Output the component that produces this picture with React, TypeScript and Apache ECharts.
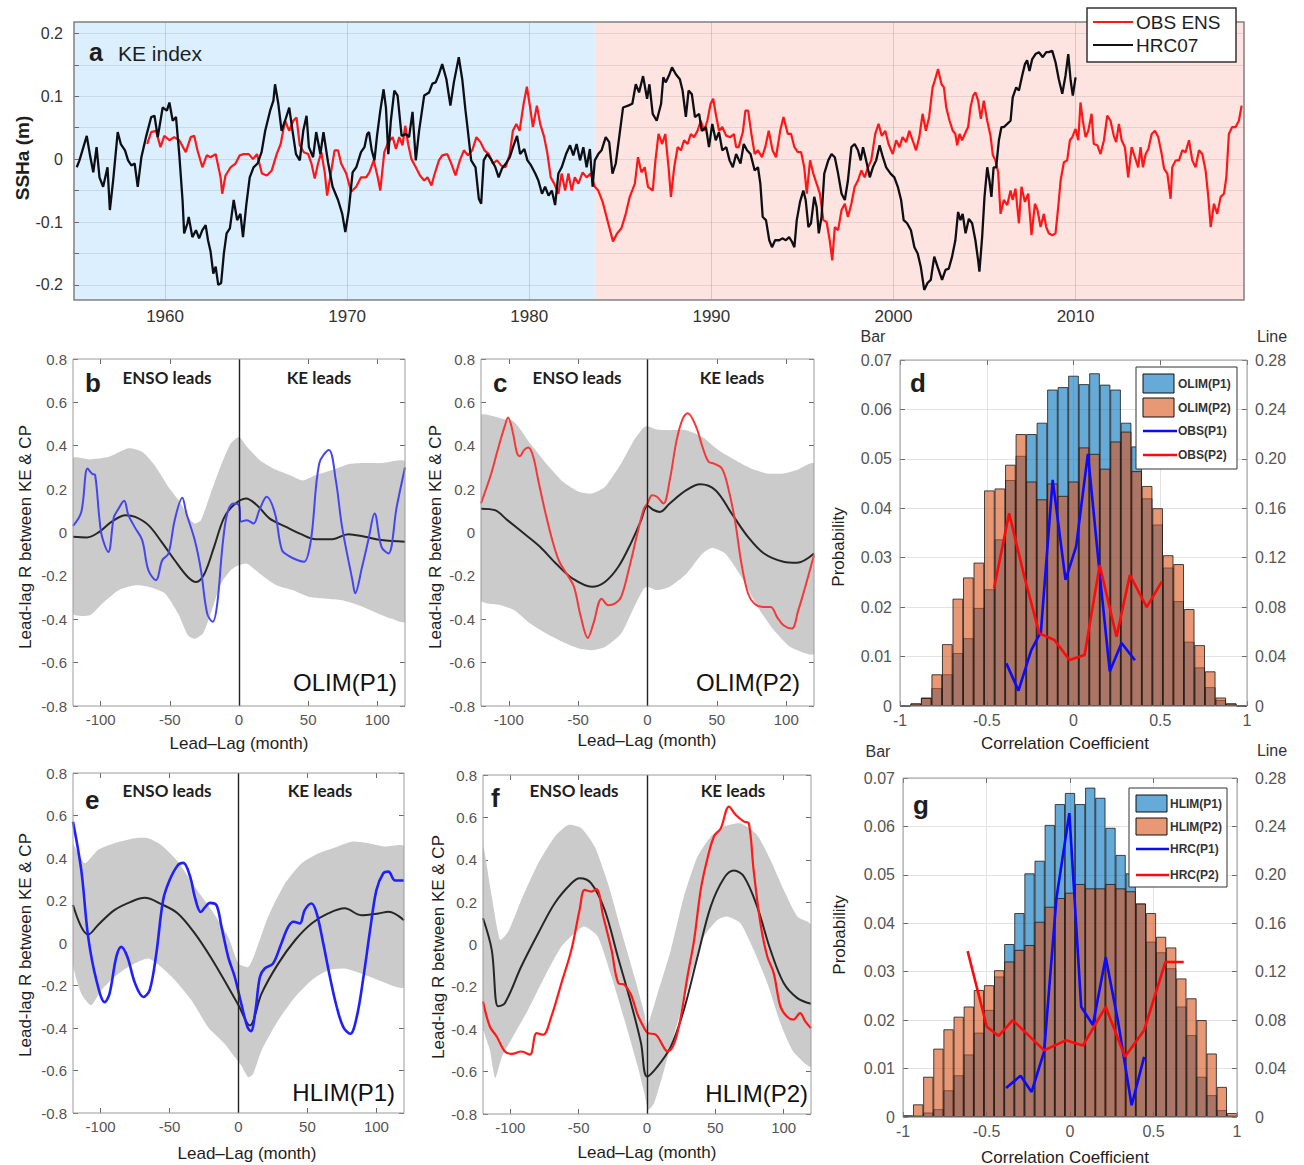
import React, { useEffect, useRef } from "react";
import * as echarts from "echarts";

const FONT = "'Liberation Sans', Arial, Helvetica, sans-serif";
const HEADFONT = "Lato, 'Liberation Sans', Arial, sans-serif";

// ---------------- Panel a: KE index time series ----------------
const hrc07 = [
  [1955.15,-0.013],[1955.3,-0.002],[1955.7,0.037],[1955.88,0.006],[1956.06,-0.021],[1956.24,0.019],[1956.4,-0.029],[1956.6,-0.044],[1956.84,-0.013],[1956.97,-0.081],[1957.15,-0.034],[1957.4,0.043],[1957.57,0.024],[1957.8,0.014],[1957.97,-0.002],[1958.15,-0.01],[1958.33,-0.007],[1958.5,-0.044],[1958.7,0.003],[1958.97,0.037],[1959.24,0.067],[1959.42,0.069],[1959.6,0.035],[1959.87,0.082],[1960.1,0.077],[1960.24,0.09],[1960.42,0.061],[1960.6,0.067],[1960.78,0.008],[1960.96,-0.065],[1961.05,-0.118],[1961.23,-0.102],[1961.3,-0.092],[1961.5,-0.124],[1961.7,-0.113],[1961.87,-0.126],[1962.05,-0.113],[1962.23,-0.105],[1962.36,-0.129],[1962.5,-0.147],[1962.65,-0.182],[1962.78,-0.171],[1962.92,-0.2],[1963.08,-0.197],[1963.23,-0.15],[1963.38,-0.118],[1963.56,-0.11],[1963.77,-0.065],[1963.96,-0.097],[1964.14,-0.087],[1964.28,-0.124],[1964.46,-0.073],[1964.65,-0.029],[1964.86,-0.013],[1965.08,-0.007],[1965.3,0.011],[1965.5,0.045],[1965.77,0.077],[1965.95,0.093],[1966.04,0.119],[1966.22,0.088],[1966.4,0.045],[1966.59,0.061],[1966.82,0.082],[1967.0,0.045],[1967.19,0.008],[1967.4,-0.002],[1967.59,0.045],[1967.77,0.069],[1967.9,0.019],[1968.13,0.003],[1968.3,0.043],[1968.53,0.008],[1968.7,0.043],[1968.95,-0.005],[1969.2,-0.044],[1969.5,-0.065],[1969.73,-0.087],[1969.9,-0.116],[1970.09,-0.081],[1970.3,-0.021],[1970.5,-0.013],[1970.76,0.011],
  [1970.95,0.019],[1971.1,0.04],[1971.2,0.043],[1971.35,0.014],[1971.5,-0.002],[1971.64,0.037],[1971.82,0.077],[1972.0,0.111],[1972.13,0.082],[1972.26,0.008],[1972.4,0.061],[1972.59,0.109],[1972.77,0.101],[1972.99,0.037],[1973.22,0.04],[1973.4,0.035],[1973.59,0.075],[1973.77,-0.002],[1973.95,0.045],[1974.23,0.101],[1974.5,0.106],[1974.68,0.12],[1974.86,0.122],[1975.04,0.135],[1975.22,0.151],[1975.45,0.127],[1975.67,0.085],[1975.86,0.122],[1976.13,0.162],[1976.32,0.127],[1976.5,0.077],[1976.63,0.045],[1976.81,-0.002],[1977.05,-0.013],[1977.23,-0.063],[1977.36,-0.071],[1977.5,-0.002],[1977.69,0.008],[1977.9,0.0],[1978.14,-0.013],[1978.32,-0.029],[1978.5,-0.015],[1978.72,-0.007],[1978.93,0.003],[1979.14,0.022],[1979.33,0.037],[1979.5,0.008],[1979.73,0.016],[1979.9,-0.002],[1980.1,-0.01],[1980.33,-0.023],[1980.5,-0.034],[1980.7,-0.055],[1980.87,-0.044],[1981.06,-0.058],[1981.24,-0.05],[1981.42,-0.073],[1981.6,-0.023],[1981.78,-0.013],[1982.02,0.008],[1982.24,0.022],[1982.42,0.006],[1982.6,0.024],[1982.79,-0.002],[1982.97,0.019],[1983.15,-0.013],[1983.33,0.016],[1983.48,-0.044],[1983.6,-0.002],[1983.79,0.008],[1983.97,0.014],[1984.2,0.035],[1984.39,0.027],[1984.57,-0.023],[1984.75,-0.007],[1984.94,0.035],[1985.15,0.082],[1985.43,0.085],[1985.66,0.088],[1985.85,0.119],[1986.03,0.106],[1986.25,0.132],[1986.47,0.096],[1986.6,0.119],
  [1986.78,0.072],[1987.0,0.061],[1987.24,0.088],[1987.36,0.13],[1987.5,0.122],[1987.7,0.135],[1987.84,0.146],[1988.05,0.135],[1988.27,0.127],[1988.42,0.109],[1988.6,0.067],[1988.75,0.109],[1988.93,0.103],[1989.1,0.067],[1989.33,0.072],[1989.47,0.045],[1989.7,0.051],[1989.87,0.019],[1990.05,0.056],[1990.24,0.03],[1990.42,0.043],[1990.6,0.014],[1990.82,0.019],[1991.0,-0.002],[1991.18,-0.013],[1991.36,0.008],[1991.6,-0.007],[1991.78,0.024],[1991.96,0.014],[1992.15,0.008],[1992.38,-0.018],[1992.56,-0.013],[1992.69,-0.039],[1992.82,-0.092],[1993.0,-0.097],[1993.18,-0.129],[1993.33,-0.14],[1993.5,-0.129],[1993.73,-0.129],[1993.9,-0.126],[1994.09,-0.129],[1994.27,-0.124],[1994.42,-0.131],[1994.56,-0.14],[1994.69,-0.097],[1994.87,-0.068],[1995.05,-0.05],[1995.18,-0.065],[1995.33,-0.108],[1995.47,-0.102],[1995.65,-0.06],[1995.78,-0.076],[1995.9,-0.118],[1996.05,-0.092],[1996.2,-0.023],[1996.42,-0.002],[1996.6,0.008],[1996.78,0.003],[1996.96,-0.023],[1997.15,-0.055],[1997.33,-0.065],[1997.5,-0.034],[1997.69,0.019],[1997.87,0.024],[1998.05,0.014],[1998.2,-0.002],[1998.33,0.019],[1998.5,-0.002],[1998.7,-0.029],[1998.87,-0.013],[1999.05,-0.002],[1999.24,0.022],[1999.42,0.003],[1999.6,-0.013],[1999.84,-0.023],[2000.05,-0.029],[2000.24,-0.044],[2000.42,-0.065],[2000.56,-0.097],[2000.75,-0.102],[2000.96,-0.113],[2001.15,-0.14],[2001.33,-0.15],[2001.5,-0.171],[2001.69,-0.208],[2001.87,-0.197],[2002.05,-0.192],[2002.24,-0.155],[2002.42,-0.171],
  [2002.67,-0.192],[2002.86,-0.176],[2003.04,-0.174],[2003.22,-0.155],[2003.4,-0.129],[2003.55,-0.084],[2003.68,-0.097],[2003.8,-0.087],[2003.96,-0.118],[2004.14,-0.095],[2004.32,-0.102],[2004.5,-0.129],[2004.65,-0.161],[2004.72,-0.179],[2004.87,-0.124],[2005.0,-0.06],[2005.15,-0.013],[2005.27,-0.034],[2005.38,-0.06],[2005.5,-0.013],[2005.64,-0.013],[2005.79,0.03],[2005.93,0.051],[2006.06,0.051],[2006.25,0.056],[2006.43,0.061],[2006.55,0.098],[2006.74,0.114],[2006.89,0.109],[2007.07,0.133],[2007.22,0.151],[2007.34,0.157],[2007.47,0.14],[2007.62,0.159],[2007.8,0.167],[2007.99,0.17],[2008.2,0.162],[2008.39,0.17],[2008.53,0.17],[2008.72,0.172],[2008.9,0.154],[2009.08,0.127],[2009.27,0.104],[2009.45,0.133],[2009.6,0.167],[2009.73,0.125],[2009.85,0.101],[2010.0,0.13]
];

const obsEns = [
  [1959.02,0.024],[1959.24,0.043],[1959.5,0.045],[1959.75,0.019],[1959.96,0.037],[1960.24,0.03],[1960.5,0.035],[1960.78,0.03],[1961.14,0.011],[1961.41,0.035],[1961.6,0.037],[1961.78,0.014],[1962.05,-0.013],[1962.29,0.006],[1962.5,0.003],[1962.78,0.008],[1963.05,-0.029],[1963.14,-0.055],[1963.32,-0.026],[1963.6,-0.013],[1963.87,-0.007],[1964.1,0.006],[1964.32,0.008],[1964.6,0.008],[1964.83,0.0],[1965.05,0.008],[1965.32,-0.023],[1965.59,-0.026],[1965.86,-0.018],[1966.13,0.008],[1966.35,0.024],[1966.59,0.061],[1966.82,0.045],[1967.04,0.061],[1967.22,0.066],[1967.4,0.022],[1967.62,0.011],[1967.86,0.008],[1968.04,-0.007],[1968.22,-0.031],[1968.4,-0.007],[1968.58,0.011],[1968.77,-0.021],[1968.9,-0.058],[1969.13,-0.018],[1969.31,0.014],[1969.5,0.014],[1969.67,-0.007],[1969.95,-0.023],[1970.22,-0.052],[1970.5,-0.044],[1970.76,-0.029],
  [1971.04,-0.029],[1971.22,-0.021],[1971.46,-0.002],[1971.68,-0.029],[1971.82,-0.05],[1972.04,0.011],[1972.26,0.027],[1972.5,0.035],[1972.68,0.016],[1972.86,0.035],[1973.04,0.022],[1973.19,0.053],[1973.35,0.024],[1973.53,0.0],[1973.77,-0.013],[1974.0,-0.026],[1974.23,-0.034],[1974.41,-0.029],[1974.63,-0.042],[1974.81,-0.023],[1975.04,-0.002],[1975.22,0.006],[1975.5,0.008],[1975.72,-0.007],[1975.95,-0.026],[1976.19,-0.002],[1976.41,0.014],[1976.63,0.006],[1976.87,0.014],[1977.1,0.035],[1977.32,0.027],[1977.54,0.014],[1977.78,0.008],[1978.0,-0.007],[1978.23,-0.002],[1978.45,-0.01],[1978.7,-0.013],[1978.93,0.008],[1979.1,0.045],[1979.29,0.056],[1979.47,0.045],[1979.69,0.088],[1979.87,0.115],[1980.05,0.082],[1980.2,0.051],[1980.42,0.085],[1980.6,0.056],[1980.82,0.035],[1981.0,0.008],[1981.18,-0.029],[1981.37,-0.039],[1981.6,-0.055],[1981.78,-0.023],[1981.97,-0.05],[1982.15,-0.023],[1982.33,-0.05],[1982.5,-0.029],[1982.7,-0.039],[1982.93,-0.021],[1983.15,-0.029],[1983.37,-0.023],[1983.6,-0.044],[1983.79,-0.05],[1984.03,-0.068],[1984.2,-0.087],[1984.39,-0.108],[1984.6,-0.131],[1984.83,-0.118],[1985.06,-0.11],[1985.3,-0.087],[1985.52,-0.06],[1985.8,-0.039],[1985.97,0.003],[1986.16,-0.021],[1986.34,-0.013],[1986.52,-0.044],
  [1986.78,-0.05],[1986.93,-0.002],[1987.1,0.04],[1987.3,0.024],[1987.47,0.04],[1987.65,-0.013],[1987.78,-0.06],[1987.96,-0.013],[1988.15,0.019],[1988.33,0.014],[1988.5,0.03],[1988.7,0.024],[1988.87,0.04],[1989.05,0.035],[1989.24,0.045],[1989.42,0.061],[1989.6,0.045],[1989.78,0.061],[1989.96,0.088],[1990.1,0.096],[1990.24,0.072],[1990.42,0.045],[1990.6,0.051],[1990.82,0.037],[1991.05,0.035],[1991.24,0.04],[1991.36,0.019],[1991.5,0.019],[1991.73,0.043],[1991.87,0.077],[1992.02,0.077],[1992.2,0.04],[1992.38,0.008],[1992.56,0.014],[1992.78,0.003],[1992.96,0.019],[1993.15,0.045],[1993.36,0.014],[1993.55,0.003],[1993.78,0.045],[1993.96,0.067],[1994.2,0.04],[1994.38,0.04],[1994.56,0.019],[1994.75,0.011],[1994.93,0.011],[1995.1,-0.013],[1995.24,-0.055],[1995.42,-0.002],[1995.6,-0.023],[1995.78,-0.039],[1995.96,-0.055],[1996.15,-0.097],[1996.33,-0.1],[1996.5,-0.129],[1996.64,-0.161],[1996.78,-0.108],[1996.96,-0.113],[1997.15,-0.081],[1997.33,-0.071],[1997.5,-0.092],[1997.69,-0.071],[1997.87,-0.044],[1998.05,-0.034],[1998.24,-0.018],[1998.42,-0.029],[1998.6,-0.013],[1998.78,-0.002],[1999.0,0.04],[1999.18,0.056],[1999.36,0.037],[1999.55,0.045],[1999.73,0.024],[1999.96,0.008],[2000.15,0.03],[2000.33,0.019],[2000.5,0.035],[2000.7,0.027],[2000.87,0.045],[2001.05,0.03],[2001.24,0.014],[2001.42,0.035],[2001.6,0.072],[2001.78,0.045],[2001.96,0.067],[2002.15,0.114],[2002.27,0.125],[2002.45,0.143],
  [2002.64,0.119],[2002.77,0.114],[2002.9,0.082],[2003.08,0.061],[2003.26,0.045],[2003.4,0.04],[2003.5,0.022],[2003.63,0.04],[2003.77,0.03],[2003.92,0.04],[2004.1,0.051],[2004.23,0.082],[2004.38,0.101],[2004.5,0.106],[2004.65,0.093],[2004.8,0.064],[2004.96,0.093],[2005.15,0.061],[2005.33,0.037],[2005.46,0.006],[2005.6,-0.002],[2005.75,-0.021],[2005.88,-0.087],[2006.06,-0.065],[2006.25,-0.073],[2006.43,-0.05],[2006.55,-0.065],[2006.7,-0.047],[2006.89,-0.102],[2007.03,-0.044],[2007.22,-0.068],[2007.4,-0.055],[2007.58,-0.121],[2007.77,-0.071],[2007.91,-0.081],[2008.08,-0.108],[2008.26,-0.087],[2008.39,-0.108],[2008.53,-0.118],[2008.72,-0.121],[2008.9,-0.118],[2009.05,-0.076],[2009.18,-0.034],[2009.36,-0.005],[2009.54,-0.002],[2009.69,0.03],[2009.82,0.035],[2010.0,0.048],[2010.15,0.03],[2010.27,0.09],[2010.4,0.061],[2010.55,0.035],[2010.7,0.045],[2010.88,0.072],[2011.0,0.024],[2011.2,0.022],[2011.37,0.008],[2011.56,0.03],[2011.74,0.069],[2011.92,0.061],[2012.1,0.037],[2012.23,0.027],[2012.38,0.056],[2012.53,0.03],[2012.71,0.019],[2012.89,-0.029],[2013.08,0.019],[2013.26,0.003],[2013.44,-0.013],[2013.57,0.019],[2013.7,-0.013],[2013.85,0.008],[2014.0,0.016],[2014.18,0.04],[2014.36,0.045],[2014.54,0.035],[2014.73,0.008],[2014.86,-0.015],[2015.04,-0.023],[2015.22,-0.063],[2015.31,-0.013],[2015.5,-0.002],[2015.68,-0.002],[2015.86,0.014],[2016.04,0.011],[2016.23,0.03],[2016.41,-0.002],[2016.59,-0.013],[2016.78,0.014],[2016.96,0.008],[2017.14,-0.018],[2017.29,-0.06],[2017.42,-0.108],[2017.6,-0.071],[2017.78,-0.087],[2017.97,-0.06],[2018.15,-0.055],[2018.28,-0.029],[2018.42,0.04],[2018.6,0.051],[2018.79,0.051],[2018.97,0.061],[2019.12,0.085]
];

const yearTicks = [1960, 1970, 1980, 1990, 2000, 2010];
const sshTicks = [-0.2, -0.15, -0.1, -0.05, 0, 0.05, 0.1, 0.15, 0.2];
const sshLabels = [-0.2, -0.1, 0, 0.1, 0.2];
const periodStart = 1955;
const periodSplit = 1983.6;
const periodEnd = 2019.25;

// ---------------- Panels b, c, e, f: lead-lag correlations ----------------
const lagTicks = [-100, -50, 0, 50, 100];

const bObs = [[-120,0.03],[-114,0.095],[-109.5,0.295],[-106,0.27],[-104,0.265],[-101,0.07],[-99,-0.02],[-94.5,-0.09],[-90.5,0.07],[-88,0.1],[-83,0.146],[-80,0.08],[-75.5,0.026],[-70,-0.035],[-65.5,-0.174],[-60,-0.22],[-55.5,-0.128],[-51,-0.097],[-46.5,0.057],[-41,0.16],[-38,0.088],[-32,-0.035],[-27.5,-0.174],[-23,-0.374],[-19,-0.412],[-15.7,-0.328],[-12,-0.066],[-8.5,0.088],[-4,0.134],[0,0.126],[1.5,0.05],[5.7,0.057],[10.5,0.042],[14.7,0.103],[20,0.165],[26,0.088],[31,-0.08],[36.5,-0.11],[42.5,-0.128],[47,-0.135],[52,-0.035],[58,0.318],[65,0.38],[70,0.24],[74.5,0.026],[82,-0.22],[84,-0.28],[89,-0.158],[93.5,-0.035],[98,0.088],[103,-0.066],[108,-0.097],[114,0.118],[120,0.3]];
const bMean = [[-120,-0.02],[-110,-0.023],[-101,0.003],[-92,0.05],[-82,0.08],[-75,0.072],[-65.5,0.034],[-56,-0.043],[-46.5,-0.128],[-37,-0.205],[-31,-0.228],[-25,-0.19],[-18,-0.066],[-11,0.065],[-4,0.126],[5,0.157],[13,0.126],[22,0.065],[34,0.026],[44,-0.005],[55.6,-0.031],[67.5,-0.031],[79,-0.008],[91,-0.02],[103,-0.035],[120,-0.043]];
const bUpper = [[-120,0.342],[-108,0.337],[-94,0.349],[-80,0.388],[-70,0.372],[-61,0.31],[-51,0.21],[-42,0.134],[-37,0.072],[-32,0.042],[-27.5,0.057],[-20.5,0.18],[-13,0.31],[-6,0.41],[0,0.44],[5.7,0.395],[15,0.334],[24.7,0.295],[36.6,0.265],[46,0.24],[55.6,0.265],[67.5,0.288],[79,0.315],[91,0.32],[103,0.32],[120,0.326]];
const bLower = [[-120,-0.374],[-108,-0.382],[-99,-0.328],[-87,-0.266],[-75,-0.243],[-65.5,-0.25],[-53.7,-0.28],[-44,-0.374],[-37,-0.474],[-32,-0.49],[-26,-0.466],[-20.5,-0.374],[-13,-0.235],[-6,-0.174],[0,-0.15],[5.7,-0.143],[15,-0.19],[27,-0.243],[39,-0.266],[51,-0.297],[63,-0.305],[74.5,-0.312],[86.5,-0.335],[98,-0.366],[110,-0.397],[120,-0.412]];

const cObs = [[-120,0.134],[-112.6,0.272],[-108,0.38],[-103,0.488],[-100.5,0.53],[-97.4,0.472],[-94,0.365],[-92,0.352],[-89,0.38],[-86,0.392],[-82.7,0.357],[-78.7,0.24],[-74,0.103],[-68,-0.05],[-63.5,-0.135],[-57.6,-0.197],[-53,-0.25],[-48,-0.39],[-43,-0.486],[-39,-0.42],[-33,-0.305],[-28.3,-0.335],[-23.6,-0.328],[-19,-0.297],[-13,-0.158],[-7.3,-0.005],[-2.6,0.11],[0,0.134],[3.3,0.172],[6.8,0.165],[11.5,0.134],[16,0.24],[21,0.426],[25.5,0.526],[29,0.55],[35,0.488],[39.6,0.395],[44,0.326],[48,0.318],[53.6,0.295],[58,0.21],[63,0.057],[67.7,-0.143],[72.4,-0.28],[77,-0.328],[83,-0.343],[88.8,-0.343],[93.4,-0.39],[98,-0.428],[104,-0.443],[108.7,-0.358],[113,-0.266],[120,-0.105]];
const cMean = [[-120,0.11],[-110,0.103],[-101,0.057],[-89,-0.005],[-77.5,-0.066],[-66,-0.143],[-54,-0.212],[-40,-0.25],[-30.7,-0.228],[-21,-0.158],[-12,-0.05],[-5,0.05],[0,0.123],[4,0.105],[9,0.095],[16,0.134],[28,0.195],[38,0.222],[49,0.195],[60.6,0.088],[72.4,-0.02],[84,-0.097],[98,-0.135],[107.5,-0.14],[120,-0.097]];
const cUpper = [[-120,0.54],[-105.6,0.526],[-96,0.51],[-84.5,0.41],[-73,0.318],[-61,0.234],[-49.4,0.188],[-40,0.18],[-30.7,0.21],[-19,0.318],[-9.6,0.426],[-2.6,0.485],[0,0.49],[6.8,0.475],[16,0.472],[28,0.472],[39.6,0.44],[51,0.38],[63,0.334],[74.7,0.295],[86.4,0.272],[98,0.272],[107.5,0.288],[120,0.318]];
const cLower = [[-120,-0.312],[-105.6,-0.335],[-96,-0.358],[-84.5,-0.42],[-73,-0.466],[-61,-0.505],[-49.4,-0.535],[-40,-0.543],[-30.7,-0.528],[-19,-0.466],[-9.6,-0.343],[-2.6,-0.258],[0,-0.25],[6.8,-0.266],[16,-0.25],[28,-0.19],[39.6,-0.097],[46.6,-0.07],[56,-0.097],[67.7,-0.205],[79.4,-0.343],[91,-0.45],[103,-0.528],[120,-0.558]];

const eObs = [[-120,0.571],[-114,0.343],[-109,0.029],[-103,-0.176],[-97,-0.278],[-93.5,-0.238],[-88.6,-0.065],[-85,-0.018],[-80.6,-0.065],[-75,-0.19],[-69,-0.254],[-64.4,-0.222],[-59.6,-0.05],[-54.7,0.2],[-50,0.295],[-44,0.366],[-40,0.377],[-35,0.311],[-31.7,0.217],[-27.4,0.146],[-24,0.17],[-20.8,0.189],[-16,0.178],[-12.3,0.076],[-7.5,-0.065],[-2.7,-0.16],[2,-0.285],[6.5,-0.396],[9,-0.415],[12.3,-0.317],[15.5,-0.16],[19,-0.12],[25,-0.097],[31,-0.003],[36,0.076],[40,0.1],[44.5,0.092],[48,0.155],[53,0.186],[56.7,0.139],[61.5,-0.003],[66.3,-0.16],[71.2,-0.3],[76,-0.396],[81,-0.427],[85.7,-0.349],[90.6,-0.16],[95.4,0.06],[100,0.249],[105,0.328],[108.7,0.336],[113.6,0.294],[120,0.294]];
const eMean = [[-120,0.179],[-114,0.076],[-109,0.04],[-102,0.084],[-90,0.155],[-78,0.194],[-68,0.213],[-56,0.183],[-44,0.139],[-31.7,0.045],[-19.6,-0.073],[-7.5,-0.207],[0,-0.293],[8.2,-0.388],[16.7,-0.238],[28.8,-0.097],[41,0.013],[53,0.092],[65,0.139],[77,0.163],[89,0.131],[101.5,0.139],[108.7,0.147],[120,0.107]];
const eUpper = [[-120,0.461],[-111.6,0.375],[-102,0.438],[-90,0.47],[-75,0.493],[-65.5,0.493],[-56,0.461],[-44,0.383],[-31.7,0.265],[-19.6,0.155],[-7.5,0.029],[0,-0.097],[7,-0.113],[11.9,-0.05],[21.5,0.123],[33.7,0.28],[45.8,0.375],[58,0.422],[70,0.45],[82,0.477],[94,0.47],[106,0.454],[120,0.454]];
const eLower = [[-120,-0.097],[-114,-0.238],[-107,-0.293],[-99.5,-0.222],[-90,-0.16],[-78,-0.105],[-65.5,-0.073],[-56,-0.113],[-46,-0.175],[-34,-0.27],[-22,-0.396],[-10,-0.474],[-2.7,-0.537],[2,-0.577],[7,-0.632],[10.6,-0.616],[16.7,-0.506],[28.8,-0.364],[41,-0.254],[53,-0.175],[65,-0.128],[77,-0.12],[89,-0.144],[101.5,-0.175],[120,-0.207]];

const fObs = [[-120,-0.269],[-115,-0.387],[-110,-0.434],[-104,-0.505],[-99,-0.516],[-92,-0.505],[-85.7,-0.52],[-80.8,-0.418],[-76,-0.426],[-70,-0.34],[-62.6,-0.182],[-55.3,-0.025],[-49.3,0.164],[-45.6,0.258],[-40.8,0.25],[-37,0.261],[-32,0.132],[-26,-0.025],[-21,-0.182],[-16.5,-0.19],[-11.7,-0.237],[-6.8,-0.332],[-2,-0.395],[0.5,-0.418],[6.5,-0.426],[12.6,-0.489],[15,-0.505],[20,-0.465],[24.8,-0.34],[29.6,-0.151],[34.5,0.022],[39.3,0.258],[44,0.4],[49,0.51],[54,0.549],[60,0.651],[64.8,0.612],[71,0.58],[74.5,0.572],[78,0.352],[83,0.1],[88,-0.057],[92.7,-0.135],[97.6,-0.292],[102.4,-0.34],[107,-0.355],[112,-0.324],[115.8,-0.363],[120,-0.395]];
const fMean = [[-120,0.124],[-113.6,-0.025],[-109,-0.292],[-104,-0.277],[-92,-0.104],[-79.6,0.053],[-67.5,0.195],[-55.3,0.289],[-49.3,0.313],[-40.8,0.289],[-31,0.164],[-21.4,-0.057],[-11.7,-0.277],[-4.4,-0.465],[0,-0.623],[7.8,-0.575],[17.5,-0.481],[27,-0.308],[37,-0.057],[46.6,0.179],[56.3,0.313],[63.6,0.349],[71,0.32],[80.6,0.179],[90.3,-0.025],[100,-0.182],[110,-0.253],[120,-0.28]];
const fUpper = [[-120,0.462],[-113.6,0.226],[-107.5,0.022],[-101.5,0.061],[-92,0.21],[-79.6,0.384],[-67.5,0.509],[-57.8,0.564],[-48,0.549],[-38.3,0.462],[-28.6,0.289],[-19,0.069],[-9.2,-0.151],[-2,-0.324],[0,-0.387],[7.8,-0.23],[17.5,-0.025],[27,0.226],[37,0.415],[46.6,0.509],[56.3,0.557],[68.4,0.572],[80.6,0.517],[90.3,0.4],[100,0.258],[110,0.132],[120,0.093]];
const fLower = [[-120,-0.387],[-115,-0.497],[-111,-0.63],[-106,-0.528],[-96.6,-0.418],[-87,-0.308],[-74.8,-0.151],[-62.6,-0.009],[-50.5,0.069],[-45.6,0.085],[-36,0.038],[-26,-0.151],[-16.5,-0.355],[-6.8,-0.575],[-2,-0.7],[1,-0.78],[5.3,-0.748],[12.6,-0.59],[22.3,-0.371],[32,-0.151],[41.7,0.038],[51.5,0.116],[58.7,0.132],[68.4,0.1],[78,-0.025],[88,-0.182],[97.6,-0.371],[107,-0.505],[120,-0.575]];

// ---------------- Panels d, g: histograms ----------------
const binCenters = ["-0.97","-0.91","-0.85","-0.79","-0.73","-0.67","-0.61","-0.55","-0.48","-0.42","-0.36","-0.30","-0.24","-0.18","-0.12","-0.06","0","0.06","0.12","0.18","0.24","0.30","0.36","0.42","0.48","0.55","0.61","0.67","0.73","0.79","0.85","0.91","0.97"];
const olimP1 = [0,0.0005,0.0017,0.0036,0.0064,0.0107,0.0137,0.0198,0.0236,0.0337,0.0457,0.0506,0.055,0.0573,0.064,0.0645,0.0668,0.0651,0.0673,0.065,0.064,0.0573,0.0525,0.042,0.0367,0.028,0.0212,0.013,0.0078,0.0038,0.0012,0.0005,0];
const olimP2 = [0,0.0005,0.0016,0.0064,0.0125,0.0217,0.026,0.029,0.0436,0.044,0.0488,0.055,0.0454,0.0418,0.045,0.0425,0.0454,0.0523,0.051,0.048,0.0535,0.0555,0.0475,0.0445,0.04,0.0305,0.0287,0.0196,0.0123,0.007,0.0017,0.0005,0];
const obsP1 = [[-0.387,0.0345],[-0.317,0.0124],[-0.244,0.045],[-0.188,0.06],[-0.12,0.183],[-0.046,0.102],[0.015,0.129],[0.083,0.204],[0.151,0.107],[0.209,0.028],[0.277,0.051],[0.354,0.037]];
const obsP2 = [[-0.458,0.0952],[-0.371,0.156],[-0.284,0.105],[-0.197,0.0588],[-0.11,0.0534],[-0.023,0.0372],[0.064,0.0413],[0.151,0.114],[0.248,0.056],[0.325,0.106],[0.422,0.08],[0.509,0.1006]];

const hlimP1 = [0.0003,0.0003,0.0009,0.0016,0.0055,0.0086,0.0129,0.0174,0.0221,0.029,0.0357,0.0421,0.0503,0.0529,0.0603,0.0646,0.0669,0.0646,0.068,0.0659,0.0597,0.0541,0.0503,0.044,0.0362,0.034,0.0307,0.0228,0.0169,0.0083,0.0045,0.0014,0.0003];
const hlimP2 = [0.0003,0.0026,0.0083,0.0141,0.0181,0.0207,0.0228,0.0262,0.0272,0.0303,0.0321,0.0345,0.0355,0.0403,0.0434,0.0452,0.0463,0.0481,0.0472,0.0472,0.0481,0.0472,0.0466,0.0441,0.0421,0.0372,0.035,0.0286,0.0245,0.02,0.0131,0.0062,0.0008];
const hrcP1 = [[-0.383,0.024],[-0.296,0.034],[-0.23,0.0207],[-0.155,0.054],[-0.081,0.181],[-0.004,0.251],[0.067,0.091],[0.137,0.076],[0.214,0.132],[0.288,0.0786],[0.369,0.0097],[0.444,0.0497]];
const hrcP2 = [[-0.613,0.137],[-0.498,0.0745],[-0.427,0.067],[-0.343,0.08],[-0.155,0.055],[-0.024,0.0634],[0.077,0.059],[0.214,0.091],[0.329,0.0497],[0.444,0.0717],[0.571,0.128],[0.681,0.128]];

// ---------------- layout ----------------
const GRIDS = [
  { left: 74, top: 22, width: 1170, height: 278 },   // a
  { left: 73, top: 359, width: 332, height: 347 },   // b
  { left: 481, top: 359, width: 333, height: 347 },  // c
  { left: 900, top: 360, width: 347, height: 346 },  // d
  { left: 73, top: 773, width: 331, height: 340 },   // e
  { left: 483, top: 775, width: 328, height: 339 },  // f
  { left: 903, top: 778, width: 334, height: 339 },  // g
];

const BLUE_BAR = "rgba(0,114,189,0.6)";
const ORANGE_BAR = "rgba(217,83,25,0.6)";
const BAND = "#cbcbcb";
const TICK = { color: "#6a6a6a", width: 1 };
const NOLINE = { show: false, onZero: false };

const fmtR = (v: number) => (Math.abs(v) < 1e-9 ? "0" : String(+v.toFixed(1)));
const fmt2 = (v: number) => (Math.abs(v) < 1e-9 ? "0" : v.toFixed(2));
const fmtC = (v: number) => (Math.abs(v) < 1e-9 ? "0" : String(+v.toFixed(1)));
const fmtYear = (v: number) => String(Math.round(v));

function lagX(g: number) {
  return {
    type: "value", gridIndex: g, min: -120, max: 120, position: "bottom",
    axisLine: NOLINE,
    axisTick: { show: true, inside: true, length: 5, lineStyle: TICK, customValues: lagTicks },
    axisLabel: { customValues: lagTicks, fontSize: 15, color: "#555", fontFamily: FONT, margin: 6 },
    splitLine: { show: false },
  };
}
function lagTop(g: number) {
  return {
    type: "value", gridIndex: g, min: -120, max: 120, position: "top",
    axisLine: NOLINE,
    axisTick: { show: true, inside: true, length: 5, lineStyle: TICK, customValues: lagTicks },
    axisLabel: { show: false },
    splitLine: { show: false },
  };
}
function rY(g: number, pos: string, labels: boolean) {
  return {
    type: "value", gridIndex: g, min: -0.8, max: 0.8, interval: 0.2, position: pos,
    axisLine: NOLINE,
    axisTick: { show: true, inside: true, length: 5, lineStyle: TICK },
    axisLabel: { show: labels, fontSize: 15, color: "#555", fontFamily: FONT, margin: 6, formatter: fmtR },
    splitLine: { show: false },
  };
}
function corrX(g: number, pos: string, labels: boolean) {
  return {
    type: "value", gridIndex: g, min: -1, max: 1, interval: 0.5, position: pos,
    axisLine: NOLINE,
    axisTick: { show: true, inside: true, length: 5, lineStyle: TICK },
    axisLabel: { show: labels, fontSize: 16, color: "#555", fontFamily: FONT, margin: 6, formatter: fmtC },
    splitLine: { show: labels, lineStyle: { color: "#e3e3e3", width: 1 } },
  };
}
function probY(g: number, pos: string, max: number, interval: number, margin: number, split: boolean) {
  return {
    type: "value", gridIndex: g, min: 0, max, interval, position: pos,
    axisLine: NOLINE,
    axisTick: { show: true, inside: true, length: 5, lineStyle: TICK },
    axisLabel: { fontSize: 16, color: "#555", fontFamily: FONT, margin, formatter: fmt2 },
    splitLine: { show: split, lineStyle: { color: "#e3e3e3", width: 1 } },
  };
}

function bandSeries(xi: number, yi: number, upper: number[][], lower: number[][]) {
  return {
    type: "custom", xAxisIndex: xi, yAxisIndex: yi, silent: true, z: 1, clip: true,
    data: [[0, 0]],
    renderItem: (_p: any, api: any) => {
      const pts = upper.map((p) => api.coord(p)).concat(lower.slice().reverse().map((p) => api.coord(p)));
      return { type: "polygon", shape: { points: pts, smooth: 0.2 }, style: { fill: BAND } };
    },
  };
}
function lagLine(xi: number, yi: number, data: number[][], color: string, width: number, zero: boolean, name: string) {
  const s: any = {
    type: "line", name, xAxisIndex: xi, yAxisIndex: yi, data, symbol: "none", showSymbol: false,
    smooth: 0.35, lineStyle: { color, width }, z: 3, silent: true,
  };
  if (zero) {
    s.markLine = {
      silent: true, symbol: ["none", "none"], label: { show: false }, z: 4,
      lineStyle: { color: "#222", width: 1.4, type: "solid" },
      data: [{ xAxis: 0 }],
    };
  }
  return s;
}
function barSeries(xi: number, yi: number, data: number[], color: string, name: string) {
  return {
    type: "bar", name, xAxisIndex: xi, yAxisIndex: yi, data, barWidth: "100%", barGap: "-100%",
    barCategoryGap: "0%", itemStyle: { color, borderColor: "#1a1a1a", borderWidth: 0.8 }, silent: true, z: 2,
  };
}
function probLine(xi: number, yi: number, data: number[][], color: string, name: string) {
  return {
    type: "line", name, xAxisIndex: xi, yAxisIndex: yi, data, symbol: "none", showSymbol: false,
    lineStyle: { color, width: 2.6 }, z: 4, silent: true,
  };
}

function txt(text: string, x: number, y: number, o: any = {}) {
  return {
    type: "text", x, y, rotation: o.rot || 0, silent: true, z: 30,
    style: {
      text, fill: o.color || "#1e1e1e", fontSize: o.size || 16, fontFamily: o.family || FONT,
      fontWeight: o.weight || "normal",
      align: o.align || "center", textAlign: o.align || "center",
      verticalAlign: o.va || "middle", textVerticalAlign: o.va || "middle",
    },
  };
}
function rect(x: number, y: number, w: number, h: number, fill: string, stroke: string, lw: number) {
  return { type: "rect", silent: true, z: 28, shape: { x, y, width: w, height: h }, style: { fill, stroke, lineWidth: lw } };
}
function seg(x1: number, y1: number, x2: number, y2: number, color: string, lw: number) {
  return { type: "line", silent: true, z: 29, shape: { x1, y1, x2, y2 }, style: { stroke: color, lineWidth: lw } };
}

function buildOption() {
  const grid = GRIDS.map((g, i) => ({
    ...g, show: true, z: 10, backgroundColor: "transparent",
    borderColor: i === 0 ? "#808080" : "#9a9a9a", borderWidth: i === 0 ? 1.5 : 1,
  }));

  const xAxis: any[] = [
    {
      type: "value", gridIndex: 0, min: periodStart, max: periodEnd, position: "bottom", z: 2,
      axisLine: NOLINE,
      axisTick: { show: false, customValues: yearTicks },
      axisLabel: { customValues: yearTicks, fontSize: 17, color: "#333", fontFamily: FONT, margin: 8, formatter: fmtYear },
      splitLine: { show: true, lineStyle: { color: "rgba(70,80,90,0.2)", width: 1 } },
    },
    lagX(1), // 1 b
    lagX(2), // 2 c
    { type: "category", gridIndex: 3, data: binCenters, show: false, boundaryGap: true, axisLine: NOLINE }, // 3 d bars
    corrX(3, "bottom", true), // 4 d lines
    lagX(4), // 5 e
    lagX(5), // 6 f
    { type: "category", gridIndex: 6, data: binCenters, show: false, boundaryGap: true, axisLine: NOLINE }, // 7 g bars
    corrX(6, "bottom", true), // 8 g lines
    lagTop(1), lagTop(2), lagTop(4), lagTop(5),
    corrX(3, "top", false), corrX(6, "top", false),
  ];

  const yAxis: any[] = [
    {
      type: "value", gridIndex: 0, min: -0.224, max: 0.218, position: "left", z: 2,
      axisLine: NOLINE,
      axisTick: { show: true, inside: true, length: 5, lineStyle: TICK, customValues: sshTicks },
      axisLabel: { customValues: sshLabels, fontSize: 16, color: "#333", fontFamily: FONT, margin: 11 },
      splitLine: { show: true, lineStyle: { color: "rgba(70,80,90,0.13)", width: 1 } },
    },
    rY(1, "left", true), // 1 b
    rY(2, "left", true), // 2 c
    probY(3, "left", 0.07, 0.01, 8, true), // 3 d left
    probY(3, "right", 0.28, 0.04, 8, false), // 4 d right
    rY(4, "left", true), // 5 e
    rY(5, "left", true), // 6 f
    probY(6, "left", 0.07, 0.01, 8, true), // 7 g left
    probY(6, "right", 0.28, 0.04, 18, false), // 8 g right
    {
      type: "value", gridIndex: 0, min: -0.224, max: 0.218, position: "right",
      axisLine: NOLINE,
      axisTick: { show: true, inside: true, length: 5, lineStyle: TICK, customValues: sshTicks },
      axisLabel: { show: false }, splitLine: { show: false },
    }, // 9 a right
    rY(1, "right", false), rY(2, "right", false), rY(4, "right", false), rY(5, "right", false),
  ];

  const series: any[] = [
    {
      type: "line", name: "OBS ENS", xAxisIndex: 0, yAxisIndex: 0, data: obsEns, symbol: "none", showSymbol: false,
      lineStyle: { color: "#ff1616", width: 2.2 }, z: 3, silent: true,
      markArea: {
        silent: true, z: 1,
        data: [
          [{ xAxis: periodStart, itemStyle: { color: "#dcefff" } }, { xAxis: periodSplit }],
          [{ xAxis: periodSplit, itemStyle: { color: "#fde4e0" } }, { xAxis: periodEnd }],
        ],
      },
    },
    {
      type: "line", name: "HRC07", xAxisIndex: 0, yAxisIndex: 0, data: hrc07, symbol: "none", showSymbol: false,
      lineStyle: { color: "#0d0f14", width: 2.3 }, z: 4, silent: true,
    },
    // b
    bandSeries(1, 1, bUpper, bLower),
    lagLine(1, 1, bMean, "#262626", 2, true, "LIM mean b"),
    lagLine(1, 1, bObs, "#4646ee", 2, false, "OBS b"),
    // c
    bandSeries(2, 2, cUpper, cLower),
    lagLine(2, 2, cMean, "#262626", 2, true, "LIM mean c"),
    lagLine(2, 2, cObs, "#f23a3a", 2, false, "OBS c"),
    // e
    bandSeries(5, 5, eUpper, eLower),
    lagLine(5, 5, eMean, "#262626", 2, true, "LIM mean e"),
    lagLine(5, 5, eObs, "#2020ff", 2.6, false, "HRC e"),
    // f
    bandSeries(6, 6, fUpper, fLower),
    lagLine(6, 6, fMean, "#262626", 2, true, "LIM mean f"),
    lagLine(6, 6, fObs, "#ff1a1a", 2.2, false, "HRC f"),
    // d
    barSeries(3, 3, olimP1, BLUE_BAR, "OLIM(P1)"),
    barSeries(3, 3, olimP2, ORANGE_BAR, "OLIM(P2)"),
    probLine(4, 4, obsP1, "#0a0aff", "OBS(P1)"),
    probLine(4, 4, obsP2, "#ff0a0a", "OBS(P2)"),
    // g
    barSeries(7, 7, hlimP1, BLUE_BAR, "HLIM(P1)"),
    barSeries(7, 7, hlimP2, ORANGE_BAR, "HLIM(P2)"),
    probLine(8, 8, hrcP1, "#0a0aff", "HRC(P1)"),
    probLine(8, 8, hrcP2, "#ff0a0a", "HRC(P2)"),
  ];

  const yName = "Lead-lag R between KE & CP";
  const xName = "Lead\u2013Lag (month)";
  const graphic: any[] = [
    // panel a
    txt("a", 89, 52, { size: 25, weight: "bold", align: "left", family: FONT }),
    txt("KE index", 118, 53, { size: 21, align: "left" }),
    txt("SSHa (m)", 22, 158, { size: 19, weight: "bold", rot: Math.PI / 2 }),
    rect(1087, 8, 149, 54, "#ffffff", "#333333", 1.5),
    seg(1093, 22, 1133, 22, "#ff1616", 2),
    seg(1093, 45, 1133, 45, "#111111", 2),
    txt("OBS ENS", 1136, 22, { size: 19, align: "left" }),
    txt("HRC07", 1136, 45, { size: 19, align: "left" }),
    // panel b
    txt("b", 85, 383, { size: 26, weight: "bold", align: "left" }),
    txt("ENSO leads", 167, 377, { size: 17, weight: "bold", family: HEADFONT }),
    txt("KE leads", 319, 377, { size: 17, weight: "bold", family: HEADFONT }),
    txt("OLIM(P1)", 397, 682, { size: 24, align: "right", color: "#111" }),
    txt(yName, 25, 537, { size: 17, rot: Math.PI / 2 }),
    txt(xName, 239, 743, { size: 17 }),
    // panel c
    txt("c", 493, 383, { size: 26, weight: "bold", align: "left" }),
    txt("ENSO leads", 577, 377, { size: 17, weight: "bold", family: HEADFONT }),
    txt("KE leads", 732, 377, { size: 17, weight: "bold", family: HEADFONT }),
    txt("OLIM(P2)", 800, 682, { size: 24, align: "right", color: "#111" }),
    txt(yName, 435, 537, { size: 17, rot: Math.PI / 2 }),
    txt(xName, 647, 740, { size: 17 }),
    // panel d
    txt("d", 910, 383, { size: 26, weight: "bold", align: "left" }),
    txt("Bar", 873, 336, { size: 16, color: "#333" }),
    txt("Line", 1272, 336, { size: 16, color: "#333" }),
    txt("Probability", 838, 547, { size: 17, rot: Math.PI / 2 }),
    txt("Correlation Coefficient", 1065, 743, { size: 17 }),
    rect(1136, 367, 101, 102, "#ffffff", "#333333", 1),
    rect(1143, 374, 31, 19, BLUE_BAR, "#111", 1),
    rect(1143, 398, 31, 19, ORANGE_BAR, "#111", 1),
    seg(1143, 431, 1177, 431, "#0a0aff", 2.5),
    seg(1143, 455, 1177, 455, "#ff0a0a", 2.5),
    txt("OLIM(P1)", 1178, 384, { size: 12, weight: "bold", align: "left", color: "#333" }),
    txt("OLIM(P2)", 1178, 408, { size: 12, weight: "bold", align: "left", color: "#333" }),
    txt("OBS(P1)", 1178, 431, { size: 12, weight: "bold", align: "left", color: "#333" }),
    txt("OBS(P2)", 1178, 455, { size: 12, weight: "bold", align: "left", color: "#333" }),
    // panel e
    txt("e", 85, 800, { size: 26, weight: "bold", align: "left" }),
    txt("ENSO leads", 167, 790, { size: 17, weight: "bold", family: HEADFONT }),
    txt("KE leads", 320, 790, { size: 17, weight: "bold", family: HEADFONT }),
    txt("HLIM(P1)", 395, 1092, { size: 24, align: "right", color: "#111" }),
    txt(yName, 25, 945, { size: 17, rot: Math.PI / 2 }),
    txt(xName, 247, 1153, { size: 17 }),
    // panel f
    txt("f", 491, 798, { size: 26, weight: "bold", align: "left" }),
    txt("ENSO leads", 574, 790, { size: 17, weight: "bold", family: HEADFONT }),
    txt("KE leads", 733, 790, { size: 17, weight: "bold", family: HEADFONT }),
    txt("HLIM(P2)", 808, 1093, { size: 24, align: "right", color: "#111" }),
    txt(yName, 438, 947, { size: 17, rot: Math.PI / 2 }),
    txt(xName, 647, 1152, { size: 17 }),
    // panel g
    txt("g", 913, 805, { size: 26, weight: "bold", align: "left" }),
    txt("Bar", 878, 751, { size: 16, color: "#333" }),
    txt("Line", 1272, 750, { size: 16, color: "#333" }),
    txt("Probability", 839, 935, { size: 17, rot: Math.PI / 2 }),
    txt("Correlation Coefficient", 1065, 1157, { size: 17 }),
    rect(1129, 788, 98, 99, "#ffffff", "#333333", 1),
    rect(1136, 795, 31, 17, BLUE_BAR, "#111", 1),
    rect(1136, 818, 31, 17, ORANGE_BAR, "#111", 1),
    seg(1136, 849, 1169, 849, "#0a0aff", 2.5),
    seg(1136, 875, 1169, 875, "#ff0a0a", 2.5),
    txt("HLIM(P1)", 1170, 804, { size: 12, weight: "bold", align: "left", color: "#333" }),
    txt("HLIM(P2)", 1170, 827, { size: 12, weight: "bold", align: "left", color: "#333" }),
    txt("HRC(P1)", 1170, 849, { size: 12, weight: "bold", align: "left", color: "#333" }),
    txt("HRC(P2)", 1170, 875, { size: 12, weight: "bold", align: "left", color: "#333" }),
  ];

  return {
    animation: false,
    backgroundColor: "#ffffff",
    textStyle: { fontFamily: FONT },
    grid, xAxis, yAxis, series, graphic,
  };
}

export default function App() {
  const ref = useRef<HTMLDivElement>(null);
  useEffect(() => {
    if (!ref.current) return;
    const chart = echarts.init(ref.current, null, { renderer: "svg" });
    chart.setOption(buildOption() as any);
    return () => chart.dispose();
  }, []);
  return (
    <div
      ref={ref}
      style={{ position: "absolute", left: 0, top: 0, width: 1304, height: 1165, background: "#fff" }}
    />
  );
}
